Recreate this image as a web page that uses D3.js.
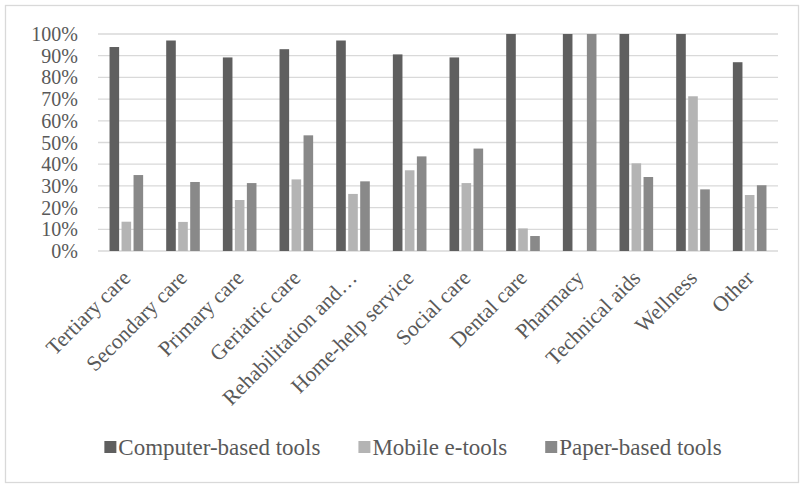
<!DOCTYPE html>
<html>
<head>
<meta charset="utf-8">
<script src="https://cdn.jsdelivr.net/npm/d3@7"></script>
<style>
  body { margin: 0; background: #fff; }
  svg text { font-family: "Liberation Serif", "Times New Roman", serif; fill: #595959; }
</style>
</head>
<body>
<div id="chart"></div>
<script>
const categories = ["Tertiary care", "Secondary care", "Primary care", "Geriatric care",
    "Rehabilitation and\u2026", "Home-help service", "Social care", "Dental care",
    "Pharmacy", "Technical aids", "Wellness", "Other"];
const seriesNames = ["Computer-based tools", "Mobile e-tools", "Paper-based tools"];
const computerBased = [0.94, 0.97, 0.892, 0.93, 0.97, 0.906, 0.892, 1.0, 1.0, 1.0, 1.0, 0.87];
const mobileETools  = [0.135, 0.134, 0.235, 0.33, 0.263, 0.372, 0.313, 0.104, 0.0, 0.404, 0.713, 0.258];
const paperBased    = [0.35, 0.318, 0.313, 0.533, 0.321, 0.436, 0.472, 0.069, 1.0, 0.341, 0.284, 0.303];
const yTicks = [0, 0.1, 0.2, 0.3, 0.4, 0.5, 0.6, 0.7, 0.8, 0.9, 1.0];
const colors = ["#5f5f5f", "#b4b4b4", "#898989"];

const canvas = { w: 806, h: 487 };
const plot = { left: 98, right: 778, top: 34, bottom: 251 };
const serif = "'Liberation Serif', 'Times New Roman', serif";

const seriesValues = [computerBased, mobileETools, paperBased];

const svg = d3.select("#chart")
    .append("svg")
    .attr("width", canvas.w)
    .attr("height", canvas.h)
    .attr("font-family", serif);

// outer frame
svg.append("rect")
    .attr("x", 5.5).attr("y", 5.5)
    .attr("width", 793).attr("height", 477)
    .attr("fill", "#fff")
    .attr("stroke", "#d9d9d9")
    .attr("stroke-width", 1.3);

const x0 = d3.scaleBand()
    .domain(categories)
    .range([plot.left, plot.right]);

const x1 = d3.scaleBand()
    .domain(seriesNames)
    .range([0, x0.bandwidth()])
    .paddingInner(0.2)
    .paddingOuter(0.96);

const y = d3.scaleLinear()
    .domain([0, 1])
    .range([plot.bottom, plot.top]);

// gridlines
svg.append("g")
    .selectAll("line")
    .data(yTicks)
    .join("line")
    .attr("x1", plot.left)
    .attr("x2", plot.right)
    .attr("y1", d => y(d))
    .attr("y2", d => y(d))
    .attr("stroke", "#d9d9d9")
    .attr("stroke-width", 1.3);

// y tick labels
svg.append("g")
    .selectAll("text")
    .data(yTicks)
    .join("text")
    .attr("x", 78)
    .attr("y", d => y(d))
    .attr("dy", "0.35em")
    .attr("text-anchor", "end")
    .attr("font-size", 20)
    .attr("font-family", serif)
    .text(d => d3.format(".0%")(d));

// bars
const groups = svg.append("g")
    .selectAll("g")
    .data(categories)
    .join("g")
    .attr("transform", d => `translate(${x0(d)},0)`);

groups.selectAll("rect")
    .data((d, i) => seriesNames.map((s, k) => ({ s, k, v: seriesValues[k][i] })))
    .join("rect")
    .filter(d => d.v > 0)
    .attr("x", d => x1(d.s))
    .attr("y", d => y(d.v))
    .attr("width", x1.bandwidth())
    .attr("height", d => y(0) - y(d.v))
    .attr("fill", d => colors[d.k]);

// category labels
svg.append("g")
    .selectAll("text")
    .data(categories)
    .join("text")
    .attr("transform", d => `translate(${x0(d) + x0.bandwidth() / 2},${plot.bottom + 23}) rotate(-45)`)
    .attr("text-anchor", "end")
    .attr("dy", "0.35em")
    .attr("font-size", 21.5)
    .attr("font-family", serif)
    .text(d => d);

// legend
const legend = svg.append("g");
const items = legend.selectAll("g")
    .data(seriesNames)
    .join("g");

items.append("rect")
    .attr("width", 12)
    .attr("height", 12)
    .attr("y", -6)
    .attr("fill", (d, i) => colors[i]);

items.append("text")
    .attr("x", 14)
    .attr("dy", "0.35em")
    .attr("font-size", 23)
    .attr("font-family", serif)
    .text(d => d);

let cursor = 0;
const widths = [];
items.each(function () {
    const w = 14 + d3.select(this).select("text").node().getComputedTextLength();
    widths.push(w);
});
const legendGap = 38;
const totalW = d3.sum(widths) + legendGap * (widths.length - 1);
const legendStart = 413 - totalW / 2;
items.attr("transform", (d, i) => {
    const tx = legendStart + cursor;
    cursor += widths[i] + legendGap;
    return `translate(${tx},447)`;
});
</script>
</body>
</html>
